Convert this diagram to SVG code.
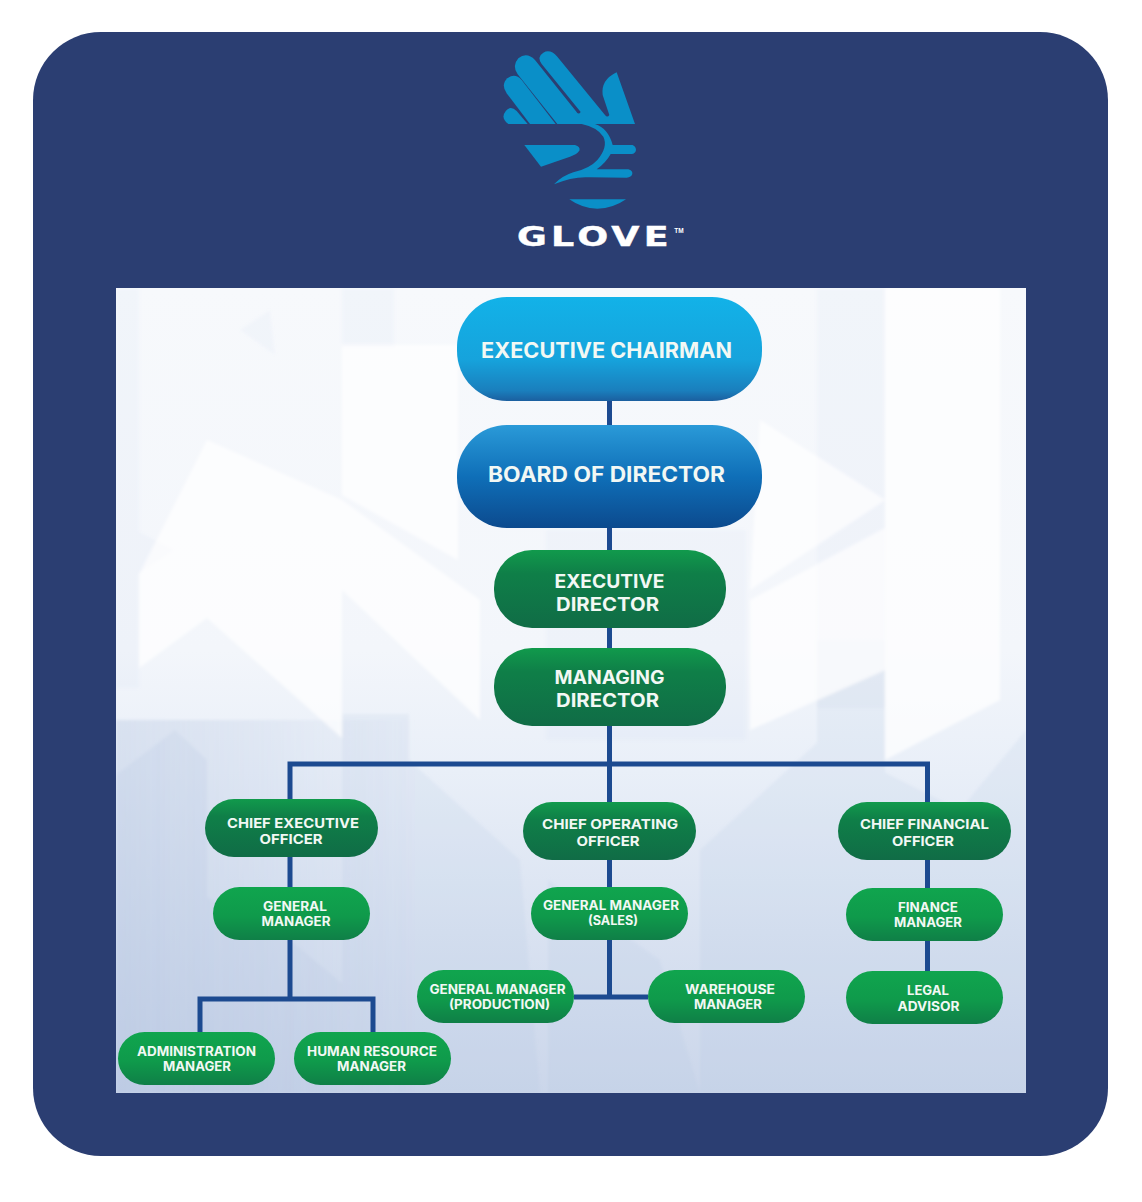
<svg xmlns="http://www.w3.org/2000/svg" width="1142" height="1202" viewBox="0 0 1142 1202">
<style>
.lbl{font-family:"Inter","Liberation Sans",sans-serif;font-weight:700;fill:#f2f8f4;text-anchor:middle}
.xl{font-size:21px}.lg{font-size:18.500px}.sm{font-size:13.500px}.xs{font-size:13px}
.cool{fill:#a9bbdb}.pale{fill:#ffffff}
.logo{fill:#0a8fc8}
#connectors path{fill:none;stroke:#1c4a90;stroke-width:5;stroke-linejoin:miter}
</style>
<defs>
<linearGradient id="bg" x1="0" y1="0" x2="0" y2="1">
<stop offset="0" stop-color="#f7f9fc"/><stop offset=".45" stop-color="#f3f6fb"/><stop offset=".6" stop-color="#e9eff8"/><stop offset=".8" stop-color="#d9e2f1"/><stop offset="1" stop-color="#cbd6ea"/>
</linearGradient>
<linearGradient id="side" x1="0" y1="0" x2="1" y2="0">
<stop offset="0" stop-color="#a9bbdb" stop-opacity=".3"/><stop offset=".35" stop-color="#a9bbdb" stop-opacity=".18"/><stop offset=".7" stop-color="#a9bbdb" stop-opacity="0"/>
</linearGradient>
<linearGradient id="gChair" x1="0" y1="0" x2="0" y2="1">
<stop offset="0" stop-color="#12b2e8"/><stop offset=".6" stop-color="#16a3dc"/><stop offset=".9" stop-color="#1a7fbd"/><stop offset="1" stop-color="#1b5f9f"/>
</linearGradient>
<linearGradient id="gBoard" x1="0" y1="0" x2="0" y2="1">
<stop offset="0" stop-color="#2a9ad8"/><stop offset=".5" stop-color="#0f6fb8"/><stop offset="1" stop-color="#0c4a8e"/>
</linearGradient>
<linearGradient id="gDark" x1="0" y1="0" x2="0" y2="1">
<stop offset="0" stop-color="#119a4c"/><stop offset=".3" stop-color="#0f7f48"/><stop offset="1" stop-color="#106c46"/>
</linearGradient>
<linearGradient id="gLight" x1="0" y1="0" x2="0" y2="1">
<stop offset="0" stop-color="#10a54e"/><stop offset=".55" stop-color="#0f9a4b"/><stop offset="1" stop-color="#0f7f47"/>
</linearGradient>
<filter id="soft" x="-5%" y="-5%" width="110%" height="110%"><feGaussianBlur stdDeviation="1.500"/></filter>
<clipPath id="panelClip"><rect x="116" y="288" width="910" height="805"/></clipPath>
</defs>

<rect x="33" y="32" width="1075" height="1124" rx="68" fill="#2b3e72"/>

<g id="logo">
<g class="logo" transform="translate(480 40) scale(.33333)">
<path d="M143 252L110 213Q92 196 78 212Q60 234 85 252Z"/>
<path d="M150 252L80 160Q62 135 82 115Q105 98 125 120L227 252Z"/>
<path d="M232 252L113 103Q95 78 115 55Q140 35 165 60L288 214Q295 226 302 216L185 72Q170 50 190 38Q210 25 232 50L375 225Q382 234 388 225L368 165Q362 120 410 97L465 252Z"/>
<path d="M133 315L285 315Q302 320 298 332Q292 342 270 350L183 380Z"/>
<path d="M305 252L345 252Q385 265 398 315L458 315Q468 320 468 330Q466 341 455 342L392 342Q378 368 350 388L445 388Q458 392 457 402Q454 412 440 413L330 412Q280 408 222 433Q245 408 280 397Q330 385 352 360Q385 320 370 290Q352 262 305 252Z"/>
<path d="M268 478L438 478Q400 505 352 506Q305 505 268 478Z"/>
</g>
<text transform="translate(517 246) scale(1.4 1)" font-family="'DejaVu Sans',sans-serif" font-weight="700" font-size="26" letter-spacing="3" fill="#fff" stroke="#fff" stroke-width=".4">GLOVE</text>
<text x="679" y="233" font-family="'Liberation Sans',sans-serif" font-weight="700" font-size="6.500" fill="#fff" text-anchor="middle">TM</text>
</g>

<g id="panel">
<rect x="116" y="288" width="910" height="805" fill="url(#bg)"/>
<g clip-path="url(#panelClip)"><g filter="url(#soft)">
<rect x="116" y="720" width="430" height="373" fill="url(#side)"/>
<g class="cool" opacity=".14">
<rect x="342" y="714" width="67" height="379"/>
<rect x="817" y="640" width="68" height="360"/>
<polygon points="116,775 175,730 207,760 207,1093 116,1093"/>
<polygon points="116,850 290,940 410,1040 410,1093 116,1093"/>
<polygon points="409,760 520,860 540,1093 409,1093"/>
<polygon points="700,850 820,740 960,810 1026,730 1026,1093 700,1093"/>
<polygon points="548,880 660,960 700,1093 548,1093"/>
</g>
<g class="cool" opacity=".07">
<rect x="342" y="288" width="52" height="60"/>
<rect x="817" y="288" width="68" height="420"/>
<rect x="116" y="288" width="23" height="400"/>
<polygon points="139,532 174,550 139,573"/>
<polygon points="270,310 240,330 275,355"/>
<polygon points="546,530 746,530 746,740 546,740"/>
<polygon points="342,288 385,288 385,345 342,320"/>
</g>
<g class="pale" opacity=".72">
<polygon points="139,575 207,440 342,500 342,738 207,618 139,668"/>
<polygon points="342,345 458,345 458,560 342,495"/>
<polygon points="342,500 480,600 480,720 342,590"/>
<polygon points="750,600 885,528 885,670 750,730"/>
<polygon points="885,288 1000,288 1000,700 885,760"/>
<polygon points="760,420 885,500 750,590"/>
</g>
</g></g>
</g>

<g id="connectors">
<path d="M609.500 400V802"/>
<path d="M290 799V764H927.500V802"/>
<path d="M609.500 764V997"/>
<path d="M574 997H648"/>
<path d="M290 857V999"/>
<path d="M200 1032V999H373V1032"/>
<path d="M927.500 860V971"/>
</g>

<g id="executive-chairman"><rect x="457" y="297" width="305" height="104" rx="50" fill="url(#gChair)"/>
<text class="lbl xl" x="606.500" y="358" textLength="251" lengthAdjust="spacingAndGlyphs">EXECUTIVE CHAIRMAN</text></g>
<g id="board-of-director"><rect x="457" y="425" width="305" height="103" rx="50" fill="url(#gBoard)"/>
<text class="lbl xl" x="606.500" y="482" textLength="237" lengthAdjust="spacingAndGlyphs">BOARD OF DIRECTOR</text></g>
<g id="executive-director"><rect x="494" y="550" width="232" height="78" rx="38" fill="url(#gDark)"/>
<text class="lbl lg" x="609.500" y="588" textLength="110" lengthAdjust="spacingAndGlyphs">EXECUTIVE</text>
<text class="lbl lg" x="607.500" y="611" textLength="103" lengthAdjust="spacingAndGlyphs">DIRECTOR</text></g>
<g id="managing-director"><rect x="494" y="648" width="232" height="78" rx="38" fill="url(#gDark)"/>
<text class="lbl lg" x="609.500" y="684" textLength="110" lengthAdjust="spacingAndGlyphs">MANAGING</text>
<text class="lbl lg" x="607.500" y="707" textLength="103" lengthAdjust="spacingAndGlyphs">DIRECTOR</text></g>

<g id="chief-executive-officer"><rect x="205" y="799" width="173" height="58" rx="29" fill="url(#gDark)"/>
<text class="lbl sm" x="293" y="828" textLength="132" lengthAdjust="spacingAndGlyphs">CHIEF EXECUTIVE</text>
<text class="lbl sm" x="291" y="844" textLength="63" lengthAdjust="spacingAndGlyphs">OFFICER</text></g>
<g id="chief-operating-officer"><rect x="523" y="802" width="173" height="58" rx="29" fill="url(#gDark)"/>
<text class="lbl sm" x="610" y="829" textLength="136" lengthAdjust="spacingAndGlyphs">CHIEF OPERATING</text>
<text class="lbl sm" x="608" y="846" textLength="63" lengthAdjust="spacingAndGlyphs">OFFICER</text></g>
<g id="chief-financial-officer"><rect x="838" y="802" width="173" height="58" rx="29" fill="url(#gDark)"/>
<text class="lbl sm" x="924.500" y="829" textLength="129" lengthAdjust="spacingAndGlyphs">CHIEF FINANCIAL</text>
<text class="lbl sm" x="923" y="846" textLength="62" lengthAdjust="spacingAndGlyphs">OFFICER</text></g>

<g id="general-manager"><rect x="213" y="887" width="157" height="53" rx="26.500" fill="url(#gLight)"/>
<text class="lbl xs" x="295" y="911" textLength="64" lengthAdjust="spacingAndGlyphs">GENERAL</text>
<text class="lbl xs" x="296" y="926" textLength="69" lengthAdjust="spacingAndGlyphs">MANAGER</text></g>
<g id="general-manager-sales"><rect x="531" y="887" width="157" height="53" rx="26.500" fill="url(#gLight)"/>
<text class="lbl xs" x="611" y="910" textLength="136" lengthAdjust="spacingAndGlyphs">GENERAL MANAGER</text>
<text class="lbl xs" x="613" y="925" textLength="50" lengthAdjust="spacingAndGlyphs">(SALES)</text></g>
<g id="finance-manager"><rect x="846" y="888" width="157" height="53" rx="26.500" fill="url(#gLight)"/>
<text class="lbl xs" x="928" y="912" textLength="60" lengthAdjust="spacingAndGlyphs">FINANCE</text>
<text class="lbl xs" x="928" y="927" textLength="68" lengthAdjust="spacingAndGlyphs">MANAGER</text></g>
<g id="general-manager-production"><rect x="417" y="970" width="157" height="53" rx="26.500" fill="url(#gLight)"/>
<text class="lbl xs" x="497.500" y="994" textLength="136" lengthAdjust="spacingAndGlyphs">GENERAL MANAGER</text>
<text class="lbl xs" x="499.500" y="1009" textLength="101" lengthAdjust="spacingAndGlyphs">(PRODUCTION)</text></g>
<g id="warehouse-manager"><rect x="648" y="970" width="157" height="53" rx="26.500" fill="url(#gLight)"/>
<text class="lbl xs" x="730" y="994" textLength="90" lengthAdjust="spacingAndGlyphs">WAREHOUSE</text>
<text class="lbl xs" x="728" y="1009" textLength="68" lengthAdjust="spacingAndGlyphs">MANAGER</text></g>
<g id="legal-advisor"><rect x="846" y="971" width="157" height="53" rx="26.500" fill="url(#gLight)"/>
<text class="lbl xs" x="928" y="995" textLength="42" lengthAdjust="spacingAndGlyphs">LEGAL</text>
<text class="lbl xs" x="928.500" y="1011" textLength="62" lengthAdjust="spacingAndGlyphs">ADVISOR</text></g>
<g id="administration-manager"><rect x="118" y="1032" width="157" height="53" rx="26.500" fill="url(#gLight)"/>
<text class="lbl xs" x="196.500" y="1056" textLength="119" lengthAdjust="spacingAndGlyphs">ADMINISTRATION</text>
<text class="lbl xs" x="197" y="1071" textLength="68" lengthAdjust="spacingAndGlyphs">MANAGER</text></g>
<g id="human-resource-manager"><rect x="294" y="1032" width="157" height="53" rx="26.500" fill="url(#gLight)"/>
<text class="lbl xs" x="372" y="1056" textLength="130" lengthAdjust="spacingAndGlyphs">HUMAN RESOURCE</text>
<text class="lbl xs" x="371.500" y="1071" textLength="69" lengthAdjust="spacingAndGlyphs">MANAGER</text></g>
</svg>
